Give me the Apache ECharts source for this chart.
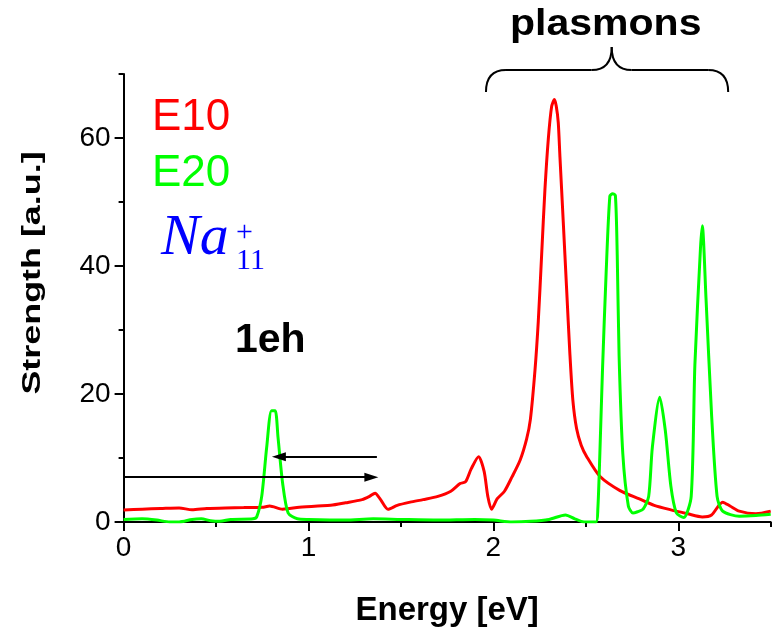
<!DOCTYPE html>
<html><head><meta charset="utf-8">
<script src="https://cdn.jsdelivr.net/npm/echarts@6/dist/echarts.min.js"></script>
<style>html,body{margin:0;padding:0;background:#fff}#c{width:772px;height:632px}</style>
</head><body><div id="c"></div>
<script>
const xMajorTicks = [0, 1, 2, 3];
const xMinorTicks = [0.5, 1.5, 2.5, 3.5];
const yMajorTicks = [0, 20, 40, 60];
const yMinorTicks = [10, 30, 50, 70];

const e10 = [[0,1.86],[0.1,2.0],[0.2,2.1],[0.3,2.2],[0.37,1.9],[0.45,2.1],[0.55,2.2],[0.65,2.25],[0.75,2.3],[0.79,2.5],[0.86,2.0],[0.95,2.3],[1.05,2.5],[1.12,2.6],[1.2,3.0],[1.29,3.5],[1.33,4.0],[1.36,4.5],[1.39,3.5],[1.43,2.0],[1.48,2.6],[1.55,3.1],[1.62,3.5],[1.7,4.0],[1.77,4.8],[1.82,6.0],[1.85,6.3],[1.88,8.3],[1.92,10.2],[1.95,7.9],[1.97,4.0],[1.99,2.0],[2.02,3.6],[2.06,4.8],[2.10,7.0],[2.145,9.7],[2.18,13],[2.20,16],[2.225,23.7],[2.243,31.4],[2.261,41.7],[2.279,52],[2.297,59.8],[2.315,64.9],[2.33,66],[2.34,65],[2.351,62.4],[2.36,57.1],[2.378,46.9],[2.396,36.5],[2.414,26.2],[2.43,19],[2.45,14.6],[2.475,12.0],[2.505,10.2],[2.577,7.1],[2.685,4.9],[2.79,3.6],[2.87,2.6],[2.96,1.9],[3.05,1.3],[3.13,0.8],[3.18,1.1],[3.24,3.1],[3.28,2.5],[3.33,1.7],[3.42,1.3],[3.5,1.7]];

const e20 = [[0,0.4],[0.1,0.5],[0.18,0.3],[0.25,0.0],[0.3,0.0],[0.37,0.4],[0.42,0.5],[0.47,0.2],[0.52,0.1],[0.58,0.4],[0.7,0.5],[0.72,0.8],[0.747,4],[0.774,11.7],[0.80,17.4],[0.82,17.4],[0.835,13.3],[0.86,6.1],[0.89,1.4],[0.94,0.5],[1.0,0.4],[1.2,0.3],[1.35,0.5],[1.5,0.4],[1.7,0.3],[1.9,0.4],[2.0,0.3],[2.1,0.0],[2.2,0.1],[2.3,0.4],[2.39,1.1],[2.44,0.5],[2.49,0.0],[2.555,0.0],[2.565,2],[2.576,10.7],[2.59,23.6],[2.61,39],[2.63,50.9],[2.645,51.3],[2.66,51.0],[2.67,41.6],[2.68,26],[2.70,10.7],[2.73,2.5],[2.755,1.4],[2.78,1.6],[2.81,2.0],[2.84,4],[2.86,11.7],[2.90,19.5],[2.93,14.3],[2.96,5.6],[2.99,1.4],[3.03,0.7],[3.07,4],[3.09,24.6],[3.12,42.7],[3.13,46.3],[3.15,35],[3.18,16.9],[3.21,4],[3.24,1.7],[3.33,0.9],[3.42,1.0],[3.5,1.2]];

const arrowLeft = [[1.37, 10.2], [0.84, 10.2]];
const arrowRight = [[0, 7.0], [1.34, 7.0]];
const braceX = [1.96, 2.64, 3.27];

const FONT = 'Liberation Sans';
const chart = echarts.init(document.getElementById('c'), null, {renderer: 'canvas'});

const axisLabelBase = {color: '#000', fontFamily: FONT, fontSize: 28};
const option = {
  animation: false,
  backgroundColor: '#fff',
  grid: {left: 123.6, right: 1.3, top: 74, bottom: 106},
  xAxis: [{
    type: 'value', min: 0, max: 3.5, interval: 1,
    axisLine: {show: true, lineStyle: {color: '#000', width: 2}},
    axisTick: {show: true, length: 9, lineStyle: {color: '#000', width: 2}, customValues: xMajorTicks},
    axisLabel: Object.assign({margin: 12, customValues: xMajorTicks}, axisLabelBase),
    splitLine: {show: false},
    name: 'Energy [eV]', nameLocation: 'middle', nameGap: 72,
    nameTextStyle: {color: '#000', fontFamily: FONT, fontSize: 33, fontWeight: 'bold'}
  }, {
    type: 'value', min: 0, max: 3.5, position: 'bottom',
    axisLine: {show: false},
    axisTick: {show: true, length: 5, lineStyle: {color: '#000', width: 2}, customValues: xMinorTicks},
    axisLabel: {show: false}, splitLine: {show: false}
  }],
  yAxis: [{
    type: 'value', min: 0, max: 70, interval: 20,
    axisLine: {show: true, lineStyle: {color: '#000', width: 2}},
    axisTick: {show: true, length: 9, lineStyle: {color: '#000', width: 2}, customValues: yMajorTicks},
    axisLabel: Object.assign({margin: 13, customValues: yMajorTicks}, axisLabelBase),
    splitLine: {show: false}
  }, {
    type: 'value', min: 0, max: 70, position: 'left',
    axisLine: {show: false},
    axisTick: {show: true, length: 5, lineStyle: {color: '#000', width: 2}, customValues: yMinorTicks},
    axisLabel: {show: false}, splitLine: {show: false}
  }],
  series: [{
    name: 'E10', type: 'line', data: e10, showSymbol: false, smooth: 0.25,
    lineStyle: {color: '#ff0000', width: 3}, itemStyle: {color: '#ff0000'}, z: 3,
    markLine: {
      silent: true, symbol: ['none', 'triangle'], symbolSize: [9, 14],
      label: {show: false},
      lineStyle: {color: '#000', width: 2, type: 'solid'},
      data: [
        [{coord: arrowLeft[0]}, {coord: arrowLeft[1]}],
        [{coord: arrowRight[0]}, {coord: arrowRight[1]}]
      ]
    }
  }, {
    name: 'E20', type: 'line', data: e20, showSymbol: false, smooth: 0.25,
    lineStyle: {color: '#00ff00', width: 3}, itemStyle: {color: '#00ff00'}, z: 4
  }]
};
chart.setOption(option);

const bl = chart.convertToPixel({xAxisIndex: 0}, braceX[0]);
const bc = chart.convertToPixel({xAxisIndex: 0}, braceX[1]);
const br = chart.convertToPixel({xAxisIndex: 0}, braceX[2]);
const yb = 92, yh = 70, yt = 47, r = 20;
const braceStyle = {stroke: '#000', lineWidth: 2, fill: null};
function bez(x1, y1, cx, cy, x2, y2) {
  return {type: 'bezierCurve', silent: true, shape: {x1: x1, y1: y1, cpx1: cx, cpy1: cy, x2: x2, y2: y2}, style: braceStyle};
}
function seg(x1, y1, x2, y2) {
  return {type: 'line', silent: true, shape: {x1: x1, y1: y1, x2: x2, y2: y2}, style: braceStyle};
}
function txt(x, y, text, font, color, extra) {
  return Object.assign({type: 'text', x: x, y: y, silent: true,
    style: {text: text, font: font, fill: color, align: 'left', verticalAlign: 'middle'}}, extra || {});
}

chart.setOption({
  graphic: [
    bez(bl, yb, bl, yh, bl + r, yh),
    seg(bl + r, yh, bc - r, yh),
    bez(bc - r, yh, bc, yh, bc, yt),
    bez(bc, yt, bc, yh, bc + r, yh),
    seg(bc + r, yh, br - r, yh),
    bez(br - r, yh, br, yh, br, yb),
    {type: 'text', x: bc - 6, y: 25.5, scaleX: 1.14, silent: true,
      style: {text: 'plasmons', font: 'bold 36px "Liberation Sans"', fill: '#000', align: 'center', verticalAlign: 'middle'}},
    txt(152, 117.8, 'E10', '44px "Liberation Sans"', '#ff0000'),
    txt(152, 173.8, 'E20', '44px "Liberation Sans"', '#00ff00'),
    txt(161, 238.4, 'Na', 'italic 58px "Liberation Serif"', '#0000ff'),
    txt(236, 261.5, '11', '30px "Liberation Serif"', '#0000ff'),
    txt(236, 232.9, '+', '30px "Liberation Serif"', '#0000ff'),
    txt(235, 340.8, '1eh', 'bold 41px "Liberation Sans"', '#000'),
    {type: 'text', x: 33, y: 273, rotation: Math.PI / 2, scaleX: 1.38, silent: true,
      style: {text: 'Strength [a.u.]', font: 'bold 26px "Liberation Sans"', fill: '#000', align: 'center', verticalAlign: 'middle'}}
  ]
});
</script></body></html>
